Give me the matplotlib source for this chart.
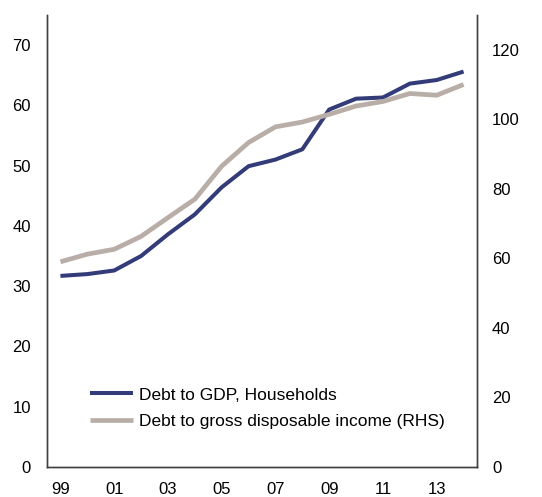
import matplotlib
matplotlib.use("Agg")
import matplotlib.pyplot as plt

plt.rcParams['font.family'] = ['Liberation Sans', 'DejaVu Sans']

years = list(range(1999, 2015))
tick_years = [1999, 2001, 2003, 2005, 2007, 2009, 2011, 2013]
tick_labels = ["99", "01", "03", "05", "07", "09", "11", "13"]

debt_to_gdp = [31.7, 32.0, 32.6, 35.0, 38.6, 41.9, 46.4, 49.9, 51.0, 52.7,
               59.3, 61.1, 61.3, 63.6, 64.2, 65.6]
debt_to_income = [59.0, 61.2, 62.6, 66.3, 71.7, 77.0, 86.5, 93.3, 97.8, 99.2,
                  101.4, 103.8, 105.1, 107.4, 106.9, 110.0]

blue = "#333B78"
grey = "#B8AEA7"
spine_col = "#404040"

fig = plt.figure(figsize=(5.42, 4.97), dpi=100)
ax = fig.add_axes([0.0867, 0.0604, 0.7934, 0.9096])
ax2 = ax.twinx()

l1, = ax.plot(years, debt_to_gdp, color=blue, lw=2.9, solid_capstyle='butt',
              label="Debt to GDP, Households")
l2, = ax2.plot(years, debt_to_income, color=grey, lw=3.4, solid_capstyle='butt',
               label="Debt to gross disposable income (RHS)")

ax.set_xlim(1998.5, 2014.5)
ax.set_ylim(0, 75)
ax2.set_ylim(0, 130)
ax.set_yticks(range(0, 71, 10))
ax2.set_yticks(range(0, 121, 20))
ax.set_xticks(tick_years)
ax.set_xticklabels(tick_labels)

for a in (ax, ax2):
    a.spines['top'].set_visible(False)
    for s in ('left', 'right', 'bottom'):
        a.spines[s].set_color(spine_col)
        a.spines[s].set_linewidth(1.0)
    a.tick_params(length=0, labelsize=12, colors='black')

ax.tick_params(axis='y', pad=11.5)
ax2.tick_params(axis='y', pad=10.8)
ax.tick_params(axis='x', pad=10.5)

ax2.legend(handles=[l1, l2], loc='center left', bbox_to_anchor=(0.1, 0.13),
           frameon=False, fontsize=12.5, handlelength=2.5, handletextpad=0.3,
           labelspacing=0.65, borderpad=0, borderaxespad=0)

fig.savefig("out.png", dpi=100)
